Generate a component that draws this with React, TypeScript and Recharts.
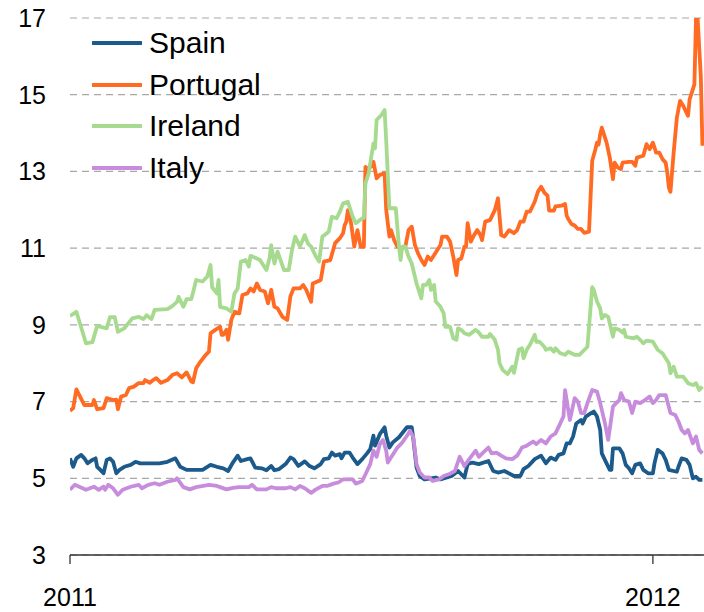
import React from "react";
import { LineChart, Line, XAxis, YAxis, CartesianGrid, Legend } from "recharts";

// x = days since 1 Jan 2011, y = 10-year government bond yield (%)
const spain: [number, number][] = [
  [0,5.52],[2,5.3],[4,5.52],[7,5.61],[9,5.52],[11,5.39],[14,5.48],[16,5.52],[17,5.3],[19,5.22],[21,5.13],[23,5.48],[25,5.52],[27,5.43],[29,5.13],[31,5.22],[34,5.3],[38,5.35],[41,5.43],[44,5.39],[56,5.39],[61,5.43],[66,5.52],[69,5.3],[73,5.22],[83,5.22],[88,5.35],[92,5.3],[96,5.26],
  [99,5.19],[102,5.41],[105,5.59],[107,5.45],[111,5.5],[113,5.52],[116,5.28],[120,5.26],[123,5.21],[126,5.32],[128,5.21],[131,5.24],[135,5.37],[138,5.54],[140,5.5],[143,5.32],[147,5.44],[150,5.32],[153,5.26],[157,5.37],[159,5.5],[162,5.52],[164,5.67],[166,5.59],[169,5.63],[170,5.52],[172,5.67],[175,5.67],[177,5.54],[180,5.37],[183,5.5],[186,5.65],[188,5.76],[190,6.11],[191,5.85],[194,6.15],[197,6.33],[198,6.11],[200,5.8],
  [202,5.93],[206,6.07],[211,6.33],[214,6.33],[215,6.02],[217,5.28],[219,5.06],[222,4.97],[229,5.02],[232,4.97],[239,5.06],[243,5.19],[247,5.02],[249,5.37],[252,5.41],[256,5.37],[262,5.45],[265,5.19],[268,5.15],[272,5.19],[278,5.06],[282,5.06],[284,5.24],[287,5.32],[291,5.5],[295,5.59],[298,5.39],[301,5.54],
  [304,5.48],[306,5.61],[309,5.65],[311,5.91],[313,5.91],[315,6.09],[317,6.43],[320,6.52],[321,6.43],[323,6.61],[326,6.69],[328,6.74],[330,6.61],[332,6.26],[333,5.65],[336,5.39],[338,5.22],[339,5.22],[340,5.78],[344,5.78],[346,5.65],[348,5.35],[350,5.26],[352,5.13],[354,5.35],[357,5.39],[359,5.22],[362,5.13],[365,5.13],[366,5.39],[368,5.74],[371,5.65],[373,5.48],[375,5.22],[380,5.17],[381,5.3],[383,5.52],[386,5.48],[388,5.35],[390,5.0],[392,5.04],[394,4.96],[396,4.96],
];

const portugal: [number, number][] = [
  [0,6.76],[2,6.83],[4,7.32],[9,6.91],[14,6.91],[15,7.04],[17,6.8],[21,6.83],[23,7.09],[27,7.04],[29,7.05],[30,6.8],[32,7.13],[35,7.17],[37,7.35],[40,7.39],[43,7.48],[46,7.48],[47,7.56],[50,7.49],[52,7.56],[54,7.61],[57,7.49],[61,7.56],[64,7.69],[67,7.74],[70,7.63],[73,7.76],[76,7.52],[77,7.5],[79,7.87],[81,8.0],[85,8.22],[87,8.3],[88,8.78],[91,8.87],[94,8.95],[95,8.74],[96,8.74],[98,8.87],[99,8.61],
  [101,9.13],[103,9.34],[106,9.3],[108,9.78],[111,9.82],[113,9.95],[115,9.87],[117,10.08],[119,9.91],[122,9.87],[124,9.56],[126,9.91],[128,9.47],[130,9.43],[133,9.21],[136,9.13],[138,9.74],[140,9.95],[144,9.95],[146,10.04],[148,9.91],[151,9.6],[152,10.08],[155,10.13],[157,10.17],[159,10.65],[163,10.69],[166,11.13],[169,11.26],[171,11.39],[172,11.6],[173,11.69],[174,11.99],[176,11.65],[178,11.04],[180,11.47],[182,11.04],[184,11.04],[185,13.12],[187,13.04],[190,13.25],[192,12.82],[194,12.91],[197,12.95],[198,12.0],[200,11.3],
  [201,11.47],[203,11.21],[205,11.04],[208,11.0],[210,11.04],[212,11.47],[214,11.56],[216,11.08],[218,10.86],[220,10.69],[222,10.56],[224,10.78],[226,10.69],[230,10.95],[232,11.08],[233,11.3],[236,11.3],[238,11.17],[240,10.78],[242,10.3],[243,10.69],[245,10.73],[247,11.04],[248,11.04],[249,11.65],[251,11.17],[253,11.34],[255,11.47],[257,11.34],[258,11.21],[260,11.69],[263,11.73],[266,11.99],[268,12.3],[270,11.34],[272,11.3],[275,11.47],[278,11.39],[280,11.47],[282,11.69],[284,11.69],[286,11.95],[288,11.95],[291,12.21],[293,12.47],[295,12.6],
  [297,12.45],[299,12.37],[300,11.98],[303,11.98],[304,12.09],[308,12.11],[310,12.15],[311,11.85],[312,11.76],[314,11.63],[316,11.59],[318,11.5],[320,11.5],[322,11.4],[325,11.43],[327,13.28],[329,13.58],[330,13.75],[331,13.7],[332,13.97],[333,14.14],[336,13.75],[338,13.36],[340,12.8],[341,13.23],[343,13.1],[345,13.06],[346,13.23],[350,13.25],[352,13.25],[354,13.15],[355,13.36],[359,13.41],[361,13.71],[363,13.58],[365,13.75],[367,13.49],[369,13.49],[371,13.32],[373,13.23],[374,12.97],[375,12.58],[376,12.47],[378,13.49],[380,14.4],[381,14.62],[382,14.84],[384,14.71],[387,14.45],[388,14.88],[390,15.14],[391,15.27],[392,17.0],[393,17.0],[395,15.48],[396,13.67],
];

const ireland: [number, number][] = [
  [0,9.23],[4,9.34],[10,8.52],[14,8.55],[17,8.97],[23,8.91],[25,9.2],[28,9.2],[30,8.82],[34,8.91],[39,9.17],[43,9.21],[46,9.15],[48,9.25],[51,9.15],[53,9.39],[61,9.41],[64,9.49],[67,9.6],[68,9.73],[71,9.47],[73,9.67],[76,9.67],[79,10.17],[83,10.13],[86,10.26],[88,10.56],[89,9.98],[92,9.82],[93,10.17],[94,9.47],
  [98,9.43],[101,9.34],[103,9.82],[105,9.95],[107,10.65],[110,10.69],[112,10.52],[113,10.8],[116,10.75],[119,10.69],[123,10.43],[125,10.75],[126,11.08],[128,10.6],[130,10.91],[134,10.43],[137,10.43],[139,10.95],[141,11.3],[144,11.04],[147,11.34],[149,11.12],[151,11.04],[154,10.78],[156,10.65],[158,11.3],[162,11.43],[164,11.82],[167,11.78],[169,11.95],[171,12.17],[174,12.21],[177,11.82],[179,11.65],[183,11.78],[184,11.78],[185,12.69],[187,12.95],[190,13.73],[191,13.6],[192,14.34],[195,14.47],[197,14.6],[198,13.8],
  [200,12.04],[204,12.04],[206,11.04],[207,10.69],[208,11.04],[210,11.04],[212,10.78],[214,10.6],[217,10.08],[220,9.69],[221,10.04],[223,10.04],[225,10.17],[226,9.91],[228,10.04],[229,9.61],[232,9.47],[234,9.3],[235,8.95],[238,8.95],[240,8.65],[242,8.61],[243,8.91],[245,8.87],[247,8.78],[250,8.74],[254,8.87],[256,8.8],[258,8.69],[262,8.69],[263,8.76],[266,8.61],[268,8.35],[269,8.0],[271,7.82],[274,7.72],[277,7.91],[278,7.75],[281,8.35],[283,8.39],[284,8.13],[286,8.35],[288,8.48],[291,8.74],[292,8.56],[294,8.56],[297,8.43],
  [298,8.35],[301,8.39],[303,8.3],[304,8.39],[307,8.26],[310,8.22],[312,8.3],[316,8.22],[319,8.22],[321,8.3],[324,8.43],[327,9.98],[328,9.91],[330,9.61],[332,9.43],[333,9.17],[335,9.26],[337,9.21],[338,9.04],[340,8.69],[341,8.91],[344,8.87],[346,8.8],[347,8.87],[348,8.69],[353,8.65],[355,8.69],[357,8.61],[359,8.52],[361,8.59],[365,8.56],[368,8.35],[371,8.26],[375,8.0],[376,7.74],[378,7.91],[380,7.65],[384,7.65],[387,7.48],[390,7.43],[392,7.48],[394,7.3],[396,7.39],
];

const italy: [number, number][] = [
  [0,4.7],[3,4.83],[10,4.7],[15,4.78],[18,4.7],[21,4.78],[22,4.7],[24,4.83],[27,4.74],[30,4.57],[33,4.7],[38,4.78],[43,4.83],[45,4.74],[49,4.83],[53,4.87],[56,4.83],[61,4.91],[66,4.96],[67,5.0],[71,4.77],[75,4.71],[79,4.77],[87,4.83],[92,4.8],
  [94,4.77],[98,4.71],[102,4.75],[106,4.77],[112,4.77],[114,4.83],[117,4.71],[123,4.71],[126,4.77],[129,4.74],[135,4.74],[138,4.77],[141,4.71],[144,4.8],[147,4.74],[151,4.62],[154,4.71],[158,4.8],[161,4.8],[165,4.86],[168,4.89],[171,4.97],[177,4.97],[179,4.86],[183,4.93],[186,5.19],[188,5.37],[190,5.72],[192,5.56],[194,5.89],[196,6.0],[198,5.72],[199,5.41],
  [201,5.54],[205,5.8],[208,5.93],[211,6.11],[213,6.24],[215,6.07],[217,5.37],[219,5.15],[222,5.02],[225,5.02],[227,4.93],[231,4.97],[234,5.06],[238,5.12],[241,5.19],[244,5.56],[247,5.32],[250,5.5],[254,5.72],[256,5.56],[259,5.68],[262,5.8],[264,5.65],[267,5.67],[270,5.59],[273,5.52],[277,5.5],[280,5.59],[283,5.8],[286,5.85],[290,5.96],[292,5.89],[295,6.0],
  [298,5.91],[301,6.09],[304,6.17],[307,6.43],[309,6.61],[310,7.3],[313,6.52],[316,7.09],[318,7.0],[320,6.7],[322,6.7],[324,6.96],[327,7.3],[330,7.26],[332,6.96],[335,6.43],[337,6.0],[340,6.87],[342,6.96],[344,7.04],[345,7.22],[347,7.04],[350,7.0],[352,6.7],[354,7.0],[357,6.96],[360,7.04],[363,7.13],[365,6.96],[367,7.04],[369,7.17],[373,7.17],[376,6.7],[379,6.65],[381,6.48],[383,6.26],[385,6.17],[387,6.26],[390,5.91],[392,6.09],[394,5.74],[396,5.65],
];

const seriesNames = ["Spain", "Portugal", "Ireland", "Italy"];
const seriesColors = ["#1B5A8A", "#FF6B22", "#A6DA8E", "#C78DDC"];
const seriesData = [spain, portugal, ireland, italy];

const yTicks = [3, 5, 7, 9, 11, 13, 15, 17];
const xTickDays = [0, 365];
const xTickLabels = ["2011", "2012"];

const FONT = '"Liberation Sans", Arial, sans-serif';

const toRows = (pts: [number, number][]) => pts.map(([d, v]) => ({ d, v }));

const LegendContent = () => (
  <div style={{ fontFamily: FONT, fontSize: 30, color: "#000" }}>
    {seriesNames.map((name, i) => (
      <div key={name} style={{ display: "flex", alignItems: "center", height: 41.7 }}>
        <svg width={50} height={8} style={{ display: "block" }}>
          <line x1={1} y1={4} x2={49} y2={4} stroke={seriesColors[i]} strokeWidth={4} strokeLinecap="round" />
        </svg>
        <span style={{ marginLeft: 7, lineHeight: "41.7px", whiteSpace: "nowrap" }}>{name}</span>
      </div>
    ))}
  </div>
);

export default function App() {
  return (
    <div style={{ width: 704, height: 612, position: "relative", background: "#fff" }}>
      <style>{"body{margin:0;}"}</style>
      <LineChart width={704} height={612} margin={{ top: 18, right: 0, bottom: 0, left: 0 }}>
        <CartesianGrid vertical={false} stroke="#a8a8a8" strokeDasharray="7 5" strokeWidth={1.2} />
        <XAxis
          type="number"
          dataKey="d"
          domain={[0, 397]}
          ticks={xTickDays}
          interval={0}
          height={57}
          tickFormatter={(d: number) => xTickLabels[xTickDays.indexOf(d)] ?? ""}
          axisLine={{ stroke: "#333", strokeWidth: 1.3 }}
          tickLine={{ stroke: "#333", strokeWidth: 1.3 }}
          tickSize={9}
          tickMargin={24}
          tick={{ fill: "#000", fontSize: 25, fontFamily: FONT }}
          allowDataOverflow
        />
        <YAxis
          type="number"
          domain={[3, 17]}
          ticks={yTicks}
          interval={0}
          width={70}
          axisLine={false}
          tickLine={false}
          tickSize={6}
          tickMargin={18}
          tick={{ fill: "#000", fontSize: 25, fontFamily: FONT }}
          allowDataOverflow
        />
        <Legend
          layout="vertical"
          align="center"
          verticalAlign="middle"
          content={() => <LegendContent />}
          wrapperStyle={{ top: 22, left: 92, width: "auto", height: "auto" }}
        />
        {seriesNames.map((name, i) => (
          <Line
            key={name}
            name={name}
            data={toRows(seriesData[i])}
            dataKey="v"
            type="linear"
            stroke={seriesColors[i]}
            strokeWidth={3.8}
            strokeLinejoin="round"
            dot={false}
            activeDot={false}
            isAnimationActive={false}
          />
        ))}
      </LineChart>
    </div>
  );
}
